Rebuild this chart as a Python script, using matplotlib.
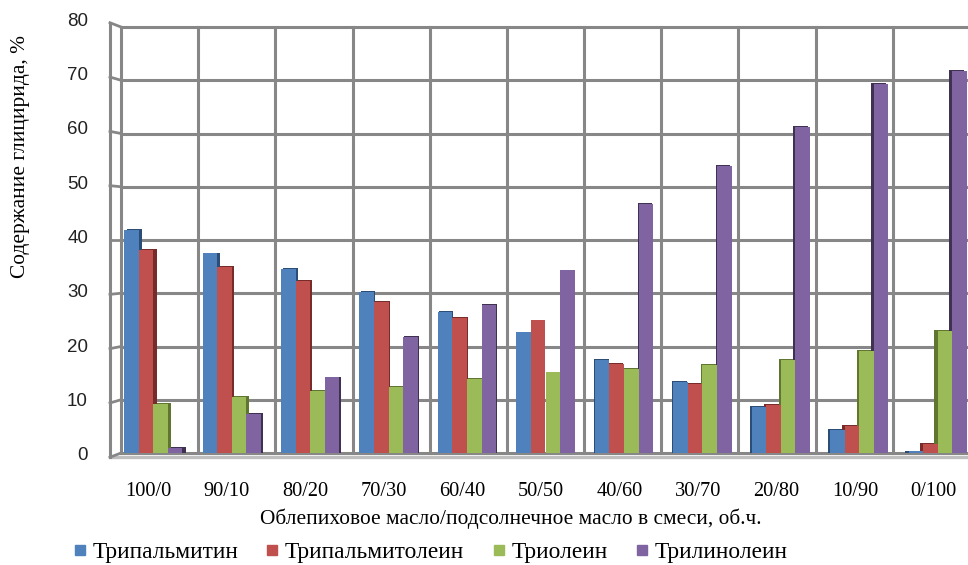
import numpy as np
import matplotlib
matplotlib.use('Agg')
import matplotlib.pyplot as plt
import matplotlib.transforms as mtransforms
from matplotlib.lines import Line2D

# data
labels = ['100/0', '90/10', '80/20', '70/30', '60/40', '50/50',
          '40/60', '30/70', '20/80', '10/90', '0/100']
tripalmitin = [41.9, 37.5, 34.5, 30.2, 26.5, 22.7, 17.5, 13.3, 8.6, 4.3, 0.3]
tripalmitolein = [38.1, 35.0, 32.3, 28.4, 25.3, 25.0, 16.7, 13.0, 9.0, 5.1, 1.7]
triolein = [9.2, 10.5, 11.7, 12.4, 13.9, 15.2, 15.8, 16.5, 17.5, 19.2, 22.9]
trilinolein = [1.0, 7.3, 14.2, 21.8, 27.8, 34.4, 46.8, 53.9, 61.2, 69.3, 71.7]
series_names = ['Трипальмитин', 'Трипальмитолеин', 'Триолеин', 'Трилинолеин']
yticks = [0, 10, 20, 30, 40, 50, 60, 70, 80]

series = [tripalmitin, tripalmitolein, triolein, trilinolein]
colors = ['#4F81BD', '#C0504D', '#9BBB59', '#8064A2']
sides = ['#2C4D75', '#772C2A', '#5F7530', '#3F3151']

serif = 'Liberation Serif'
gridc = '#878787'

fig = plt.figure(figsize=(9.68, 5.65), dpi=100)
ax = fig.add_axes([121/968, 112/565, 849/968, 426/565])
ax.set_xlim(-0.5, 10.5)
ax.set_ylim(0, 80)
ax.axis('off')

n = len(labels)
# perspective: front plane is slightly larger than back wall
persp = 1.017
xc = (n - 1) / 2
xf = xc + (np.arange(n) - xc) * persp
def yfront(v):
    return 40 + (v - 40) * 1.02

# back wall grid
for v in yticks:
    ax.plot([-0.5, 10.5], [v, v], color=gridc, lw=2.2, zorder=1, clip_on=False)
for k in range(n + 1):
    ax.plot([k - 0.5, k - 0.5], [0, 80], color=gridc, lw=2.2, zorder=1, clip_on=False)

# left side wall
trb = mtransforms.blended_transform_factory(ax.transAxes, ax.transData)
xw = -11/849
ax.plot([xw, xw], [yfront(0), yfront(80)], color=gridc, lw=2.2, transform=trb, clip_on=False)
for v in yticks:
    ax.plot([xw, 0], [yfront(v), v], color=gridc, lw=2.0, transform=trb, clip_on=False)
# floor front edge
ax.plot([xw, 1], [yfront(0), yfront(0)], color='#BFBFBF', lw=2.4, transform=trb, clip_on=False, zorder=1)

# bars
w = 0.188
for j, (vals, c, sc) in enumerate(zip(series, colors, sides)):
    for i in range(n):
        x = xf[i] + (j - 1.5) * w
        d = -(i - xc) * 0.009
        if abs(d) > 0.001:
            ax.bar(x + d, vals[i] + 0.15, width=w, bottom=0, color=sc, zorder=2 + j*0.1, clip_on=False)
        ax.bar(x, vals[i], width=w, color=c, zorder=3 + j*0.1, clip_on=False)

# tick labels
for v in yticks:
    ax.text(-33/849, yfront(v) + 0.3, str(v), transform=trb, ha='right', va='center',
            fontsize=13.5, family='Liberation Sans', color='#222222')
trx = mtransforms.blended_transform_factory(ax.transData, ax.transAxes)
for i, lab in enumerate(labels):
    ax.text(xf[i] - 0.06, -38/426, lab, transform=trx, ha='center', va='center',
            fontsize=14.7, family=serif)

fig.text(511/968, 1 - 519/565, 'Облепиховое масло/подсолнечное масло в смеси, об.ч.',
         ha='center', va='center', fontsize=15.4, family=serif)
fig.text(21/968, 1 - 157/565, 'Содержание глицирида, %', rotation=90,
         ha='center', va='center', fontsize=15.4, family=serif)

handles = [Line2D([], [], marker='s', ls='none', color=c, markersize=7) for c in colors]
fig.legend(handles, series_names, loc='center left', bbox_to_anchor=(61/968, 1 - 552/565),
           ncol=4, frameon=False, handlelength=0.6, handletextpad=0.24, borderpad=0,
           columnspacing=1.17, prop={'family': serif, 'size': 16.8})

fig.savefig('out.png', dpi=100)
